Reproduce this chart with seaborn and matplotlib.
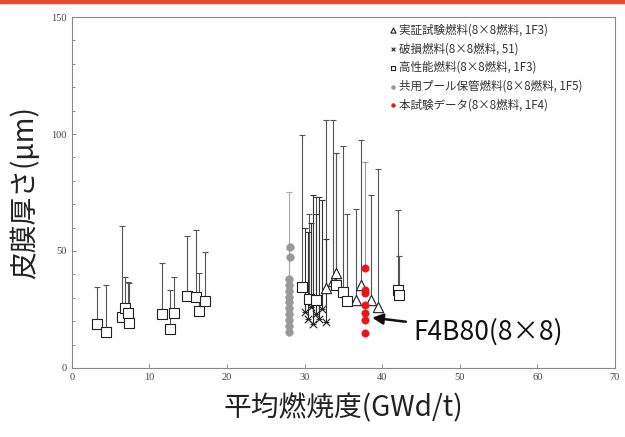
"""Oxide film thickness vs average burnup (8x8 fuel), recreated with seaborn."""

import numpy as np
import pandas as pd
import matplotlib
matplotlib.use("Agg")
import matplotlib.pyplot as plt
from matplotlib.patches import Rectangle
from matplotlib.ticker import MultipleLocator
import seaborn as sns

# 高性能燃料 (open squares)
sq_x = [3.3, 4.4, 6.4, 6.9, 7.2, 7.3, 11.6, 12.6, 13.2, 14.9, 16.0, 16.4, 17.1,
        29.6, 30.6, 31.4, 34.0, 34.9, 35.5, 42.0, 42.2]
sq_y = [19.0, 15.4, 21.8, 25.6, 23.5, 19.2, 23.0, 16.7, 23.5, 30.8, 30.3, 24.4, 28.6,
        34.6, 29.5, 29.0, 35.5, 32.5, 28.6, 33.3, 31.2]
sq_max = [34.6, 35.5, 60.7, 39.0, 36.8, 36.3, 45.0, 33.3, 39.0, 56.4, 59.0, 40.6, 49.6,
          99.6, 66.0, 73.0, 92.0, 95.0, 66.0, 67.5, 48.0]

# 実証試験燃料 (open triangles)
tri_x = [32.8, 33.7, 34.0, 36.6, 37.3, 38.6, 39.4]
tri_y = [34.0, 37.0, 40.5, 29.0, 35.5, 29.0, 26.0]
tri_max = [106.0, 106.0, 92.0, 68.0, 97.4, 74.0, 85.0]

# 破損燃料 (x markers)
dmg_x = [30.0, 30.4, 30.8, 31.1, 31.5, 31.9, 32.3, 32.7]
dmg_y = [24.0, 21.0, 26.0, 19.0, 23.0, 21.0, 25.0, 19.5]
dmg_max = [60.0, 58.0, 62.0, 74.0, 66.0, 73.0, 72.0, 55.0]

# 共用プール保管燃料 (grey dots)
pool_x = [28.0, 28.0, 28.0, 28.0, 28.0, 28.0, 28.0, 28.0, 28.0, 28.0, 28.1, 28.1]
pool_y = [15.5, 18.0, 20.5, 23.0, 25.5, 28.0, 30.5, 33.0, 35.5, 38.0, 47.4, 51.7]
pool_max = [np.nan, np.nan, np.nan, np.nan, np.nan, np.nan, 51.0, np.nan, np.nan, 75.2,
            np.nan, np.nan]

# 本試験データ (red dots)
red_x = [37.8, 37.8, 37.8, 37.8, 37.8, 37.8, 37.8]
red_y = [42.7, 33.3, 32.0, 26.9, 23.5, 20.5, 15.0]
red_max = [88.0, np.nan, np.nan, np.nan, np.nan, np.nan, np.nan]

labels = ["実証試験燃料(8×8燃料, 1F3)", "破損燃料(8×8燃料, 51)", "高性能燃料(8×8燃料, 1F3)",
          "共用プール保管燃料(8×8燃料, 1F5)", "本試験データ(8×8燃料, 1F4)"]

sns.set_style("white")
plt.rcParams["font.family"] = ["Noto Sans CJK JP", "DejaVu Sans"]

fig = plt.figure(figsize=(6.25, 4.37), dpi=100)
ax = fig.add_axes([0.115, 0.158, 0.869, 0.803])


def bars(x, y, ymax, color="#555555", lw=0.8):
    x = np.asarray(x, float)
    y = np.asarray(y, float)
    ymax = np.asarray(ymax, float)
    m = ~np.isnan(ymax)
    ax.errorbar(x[m], y[m], yerr=[np.zeros(m.sum()), ymax[m] - y[m]], fmt="none",
                ecolor=color, elinewidth=lw, capsize=2, capthick=lw, zorder=1)


bars(pool_x, pool_y, pool_max, color="#aaaaaa")
bars(sq_x, sq_y, sq_max)
bars(tri_x, tri_y, tri_max)
bars(dmg_x, dmg_y, dmg_max, color="#333333")
bars(red_x, red_y, red_max, color="#999999")

sns.scatterplot(x=tri_x, y=tri_y, marker="^", s=55, facecolor="white", edgecolor="#222222",
                linewidth=0.8, ax=ax, zorder=3, label=labels[0])
sns.scatterplot(x=dmg_x, y=dmg_y, marker="x", s=28, color="#222222", linewidth=0.8,
                ax=ax, zorder=3, label=labels[1])
sns.scatterplot(x=sq_x, y=sq_y, marker="s", s=50, facecolor="white", edgecolor="#222222",
                linewidth=0.8, ax=ax, zorder=3, label=labels[2])
sns.scatterplot(x=pool_x, y=pool_y, marker="o", s=30, color="#999999", edgecolor="#999999",
                ax=ax, zorder=3, label=labels[3])
sns.scatterplot(x=red_x, y=red_y, marker="o", s=28, color="#e8161b", edgecolor="#e8161b",
                ax=ax, zorder=4, label=labels[4])

ax.set_xlim(0, 70)
ax.set_ylim(0, 150)
ax.xaxis.set_major_locator(MultipleLocator(10))
ax.yaxis.set_major_locator(MultipleLocator(50))
ax.yaxis.set_minor_locator(MultipleLocator(10))
ax.tick_params(axis="both", which="both", direction="in", length=3, width=0.6, color="#777777",
               labelsize=7.5, labelcolor="#444444")
ax.tick_params(axis="both", which="minor", length=2)
ax.tick_params(axis="y", left=True, which="both")
ax.tick_params(axis="x", bottom=True)
for lab in ax.get_xticklabels() + ax.get_yticklabels():
    lab.set_fontfamily("Liberation Serif")
for sp in ax.spines.values():
    sp.set_color("#888888")
    sp.set_linewidth(0.8)

ax.set_xlabel("平均燃焼度(GWd/t)", fontsize=20, color="#222222", labelpad=8)
ax.set_ylabel("皮膜厚さ(μm)", fontsize=20, color="#222222", labelpad=8)

leg = ax.legend(loc="upper left", bbox_to_anchor=(0.575, 0.995), frameon=False, fontsize=8.3,
                handletextpad=0.1, handlelength=0.8, labelspacing=0.5, borderaxespad=0,
                markerscale=0.5, labelcolor="#333333")

ax.annotate("F4B80(8×8)", xy=(38.7, 21.5), xytext=(44.0, 15.5), fontsize=19, color="#111111",
            va="center", ha="left",
            arrowprops=dict(arrowstyle="-|>", color="#111111", lw=1.8, mutation_scale=16,
                            shrinkA=3, shrinkB=0))

fig.add_artist(Rectangle((0, 0.993), 1, 0.007, transform=fig.transFigure,
                         color="#ea4a2e", zorder=10))

fig.savefig("out.png", dpi=100)
